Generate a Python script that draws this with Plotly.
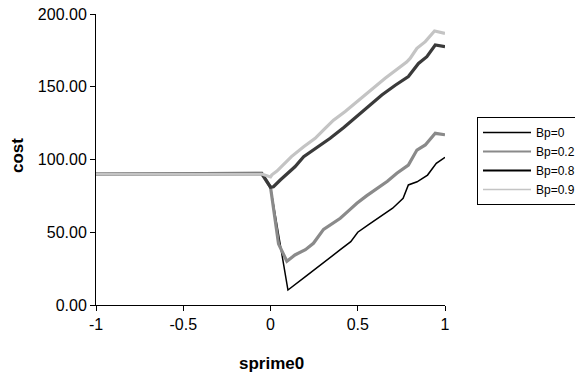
import plotly.graph_objects as go

# ---- data ----
x_bp0 = [-1, -0.05, 0.0, 0.1, 0.2, 0.3, 0.4, 0.46, 0.5, 0.56, 0.63, 0.7, 0.76, 0.79, 0.84, 0.9, 0.95, 1.0]
y_bp0 = [90, 90, 81, 10.3, 19.5, 29, 38, 43.5, 50, 55, 60.7, 66.5, 73.3, 82.5, 84.7, 89.3, 97.4, 101.5]

x_bp02 = [-1, -0.05, 0.0, 0.046, 0.094, 0.14, 0.2, 0.246, 0.304, 0.35, 0.4, 0.45, 0.495,
          0.55, 0.61, 0.67, 0.724, 0.79, 0.839, 0.887, 0.944, 1.0]
y_bp02 = [90, 90, 81, 42, 30, 34.4, 38, 42.4, 52, 55.5, 59.6, 65, 69.9,
          75, 80.2, 85, 90.5, 96.2, 106.5, 110, 118, 117]

x_bp08 = [-1, -0.05, 0.0, 0.017, 0.056, 0.14, 0.19, 0.285, 0.342, 0.42, 0.485, 0.543,
          0.638, 0.715, 0.79, 0.848, 0.896, 0.944, 1.0]
y_bp08 = [90, 90.5, 81, 81.3, 85.9, 95, 102, 110, 114.6, 122, 128.5, 134.5,
          144.3, 151, 157, 166, 170.7, 178.7, 177.5]

x_bp09 = [-1, -0.05, 0.0, 0.008, 0.037, 0.12, 0.19, 0.256, 0.313, 0.361, 0.428, 0.485,
          0.543, 0.657, 0.78, 0.8, 0.839, 0.887, 0.94, 1.0]
y_bp09 = [90, 90, 88, 89.5, 92, 102, 108.8, 114.6, 121.4, 127, 133, 138.6,
          144, 155.8, 167, 169.5, 176.4, 181, 188.3, 186.7]

series_names = ["Bp=0", "Bp=0.2", "Bp=0.8", "Bp=0.9"]
x_ticks = [-1, -0.5, 0, 0.5, 1]
x_tick_text = ["-1", "-0.5", "0", "0.5", "1"]
y_ticks = [0, 50, 100, 150, 200]

# ---- styles ----
plot_colors = ["#000000", "#8a8a8a", "#3a3a3a", "#c4c4c4"]
plot_widths = [1.5, 3.2, 3.2, 3.2]
legend_colors = ["#000000", "#8a8a8a", "#000000", "#c4c4c4"]
legend_widths = [1.5, 2, 2, 1.5]

xs = [x_bp0, x_bp02, x_bp08, x_bp09]
ys = [y_bp0, y_bp02, y_bp08, y_bp09]

fig = go.Figure()
for i, name in enumerate(series_names):
    fig.add_trace(go.Scatter(
        x=xs[i], y=ys[i], mode="lines", name=name, legendgroup=name,
        showlegend=False,
        line=dict(color=plot_colors[i], width=plot_widths[i]),
    ))
for i, name in enumerate(series_names):
    fig.add_trace(go.Scatter(
        x=[None], y=[None], mode="lines", name=name, legendgroup=name,
        showlegend=True,
        line=dict(color=legend_colors[i], width=legend_widths[i]),
    ))

# page body has an 8px margin; work in figure coordinates (screen - 8)
OFF = 8
L, R, T, B = 96 - OFF, 445 - OFF, 14 - OFF, 305 - OFF
W, H = 583 - OFF, 373 - OFF

fig.update_layout(
    width=W, height=H,
    margin=dict(l=L, r=W - R, t=T, b=H - B, autoexpand=False),
    paper_bgcolor="white", plot_bgcolor="white",
    font=dict(family="Liberation Sans, Arial, sans-serif", size=16, color="black"),
    showlegend=True,
    legend=dict(
        x=(477 - OFF - L) / (R - L), y=(B - (117 - OFF)) / (B - T),
        xanchor="left", yanchor="top",
        bordercolor="black", borderwidth=1,
        font=dict(size=12, color="black"),
        bgcolor="white",
        tracegroupgap=0,
        itemwidth=48,
    ),
    xaxis=dict(
        range=[-1, 1], tickvals=x_ticks, ticktext=x_tick_text,
        ticks="outside", ticklen=5, tickcolor="black",
        showline=True, linecolor="black", linewidth=1,
        showgrid=False, zeroline=False,
        tickfont=dict(size=16), ticklabeloverflow="allow",
    ),
    yaxis=dict(
        range=[0, 200], tickvals=y_ticks, tickformat=".2f",
        ticks="outside", ticklen=5, tickcolor="black",
        showline=True, linecolor="black", linewidth=1,
        showgrid=False, zeroline=False,
        tickfont=dict(size=16), ticklabeloverflow="allow",
    ),
)

fig.add_annotation(
    text="<b>sprime0</b>", xref="paper", yref="paper",
    x=(271 - OFF - L) / (R - L), y=(B - (363 - OFF)) / (B - T),
    xanchor="center", yanchor="middle", showarrow=False,
    font=dict(size=17),
)
fig.add_annotation(
    text="<b>cost</b>", xref="paper", yref="paper",
    x=(17 - OFF - L) / (R - L), y=(B - (156 - OFF)) / (B - T),
    xanchor="center", yanchor="middle", showarrow=False,
    textangle=-90, font=dict(size=17),
)

fig.write_html("out.html")
